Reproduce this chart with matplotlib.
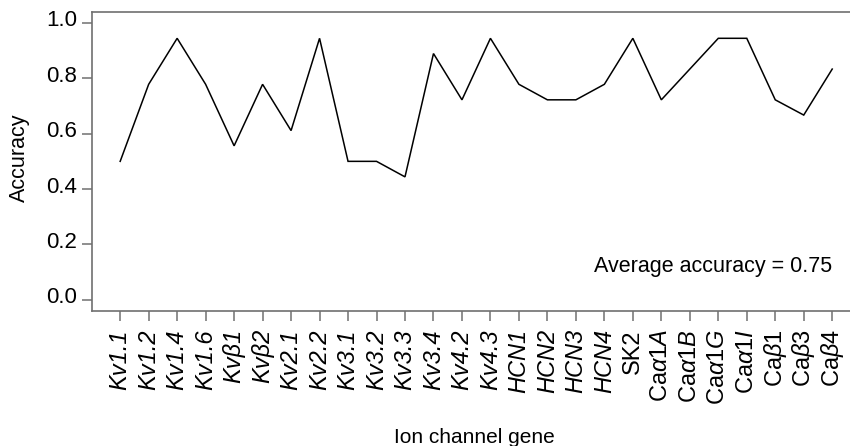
import matplotlib
matplotlib.use('Agg')
import matplotlib.pyplot as plt
from matplotlib.transforms import ScaledTranslation
import numpy as np

genes = ['Kv1.1', 'Kv1.2', 'Kv1.4', 'Kv1.6', 'Kvβ1', 'Kvβ2', 'Kv2.1', 'Kv2.2',
         'Kv3.1', 'Kv3.2', 'Kv3.3', 'Kv3.4', 'Kv4.2', 'Kv4.3', 'HCN1', 'HCN2',
         'HCN3', 'HCN4', 'SK2', 'Caα1A', 'Caα1B', 'Caα1G', 'Caα1I', 'Caβ1',
         'Caβ3', 'Caβ4']
accuracy = [0.500, 0.778, 0.944, 0.778, 0.556, 0.778, 0.611, 0.944,
            0.500, 0.500, 0.444, 0.889, 0.722, 0.944, 0.778, 0.722,
            0.722, 0.778, 0.944, 0.722, 0.833, 0.944, 0.944, 0.722,
            0.667, 0.833]
yticks = [0.0, 0.2, 0.4, 0.6, 0.8, 1.0]
ytick_labels = ['0.0', '0.2', '0.4', '0.6', '0.8', '1.0']
x_title = 'Ion channel gene'
y_title = 'Accuracy'
avg_text = 'Average accuracy = 0.75'

plt.rcParams['font.family'] = ['Liberation Sans', 'DejaVu Sans']
plt.rcParams['mathtext.fontset'] = 'custom'
plt.rcParams['mathtext.rm'] = 'Liberation Sans'
plt.rcParams['mathtext.it'] = 'Liberation Sans:italic'
plt.rcParams['mathtext.bf'] = 'Liberation Sans:bold'

W, H = 850, 446
fig = plt.figure(figsize=(W / 100, H / 100), dpi=100)
left, right, top, bottom = 91.7, 860.7, 11.7, 311.0
ax = fig.add_axes([left / W, (H - bottom) / H, (right - left) / W, (bottom - top) / H])

x = np.arange(1, len(genes) + 1)
ax.plot(x, accuracy, color='black', lw=1.1, solid_joinstyle='miter')
ax.set_xlim(0, 27)
ax.set_ylim(-0.04, 1.04)

frame_col = '#707070'
for s in ax.spines.values():
    s.set_color(frame_col)
    s.set_linewidth(1.2)

def fmt(g):
    if g.startswith('Ca'):
        return 'Ca$\\mathit{' + g[2:] + '}$'
    return g

ax.set_xticks(x)
ax.set_xticklabels([fmt(g) for g in genes], rotation=90, fontsize=17)
for g, lab in zip(genes, ax.get_xticklabels()):
    if g.startswith('Kv') or g.startswith('HCN'):
        lab.set_fontstyle('italic')
ax.set_yticks(yticks)
ax.set_yticklabels(ytick_labels, fontsize=16)
ax.tick_params(axis='both', direction='out', length=7.5, width=1.1,
               color=frame_col, labelcolor='black')
ax.tick_params(axis='x', pad=5.5)
ax.tick_params(axis='y', pad=3.0)
off = ScaledTranslation(0, 4.5 / 100, fig.dpi_scale_trans)
for lab in ax.get_yticklabels():
    lab.set_transform(lab.get_transform() + off)

ax.text((831.7 - left) / (right - left), (bottom - 272.3) / (bottom - top), avg_text,
        transform=ax.transAxes, ha='right', va='baseline', fontsize=15.5)

fig.text(474 / W, 3 / H, x_title, ha='center', va='baseline', fontsize=15)
fig.text(19 / W, 1 - 158 / H, y_title, ha='center', va='center', rotation=90, fontsize=15.5)

fig.savefig('out.png', dpi=100)
